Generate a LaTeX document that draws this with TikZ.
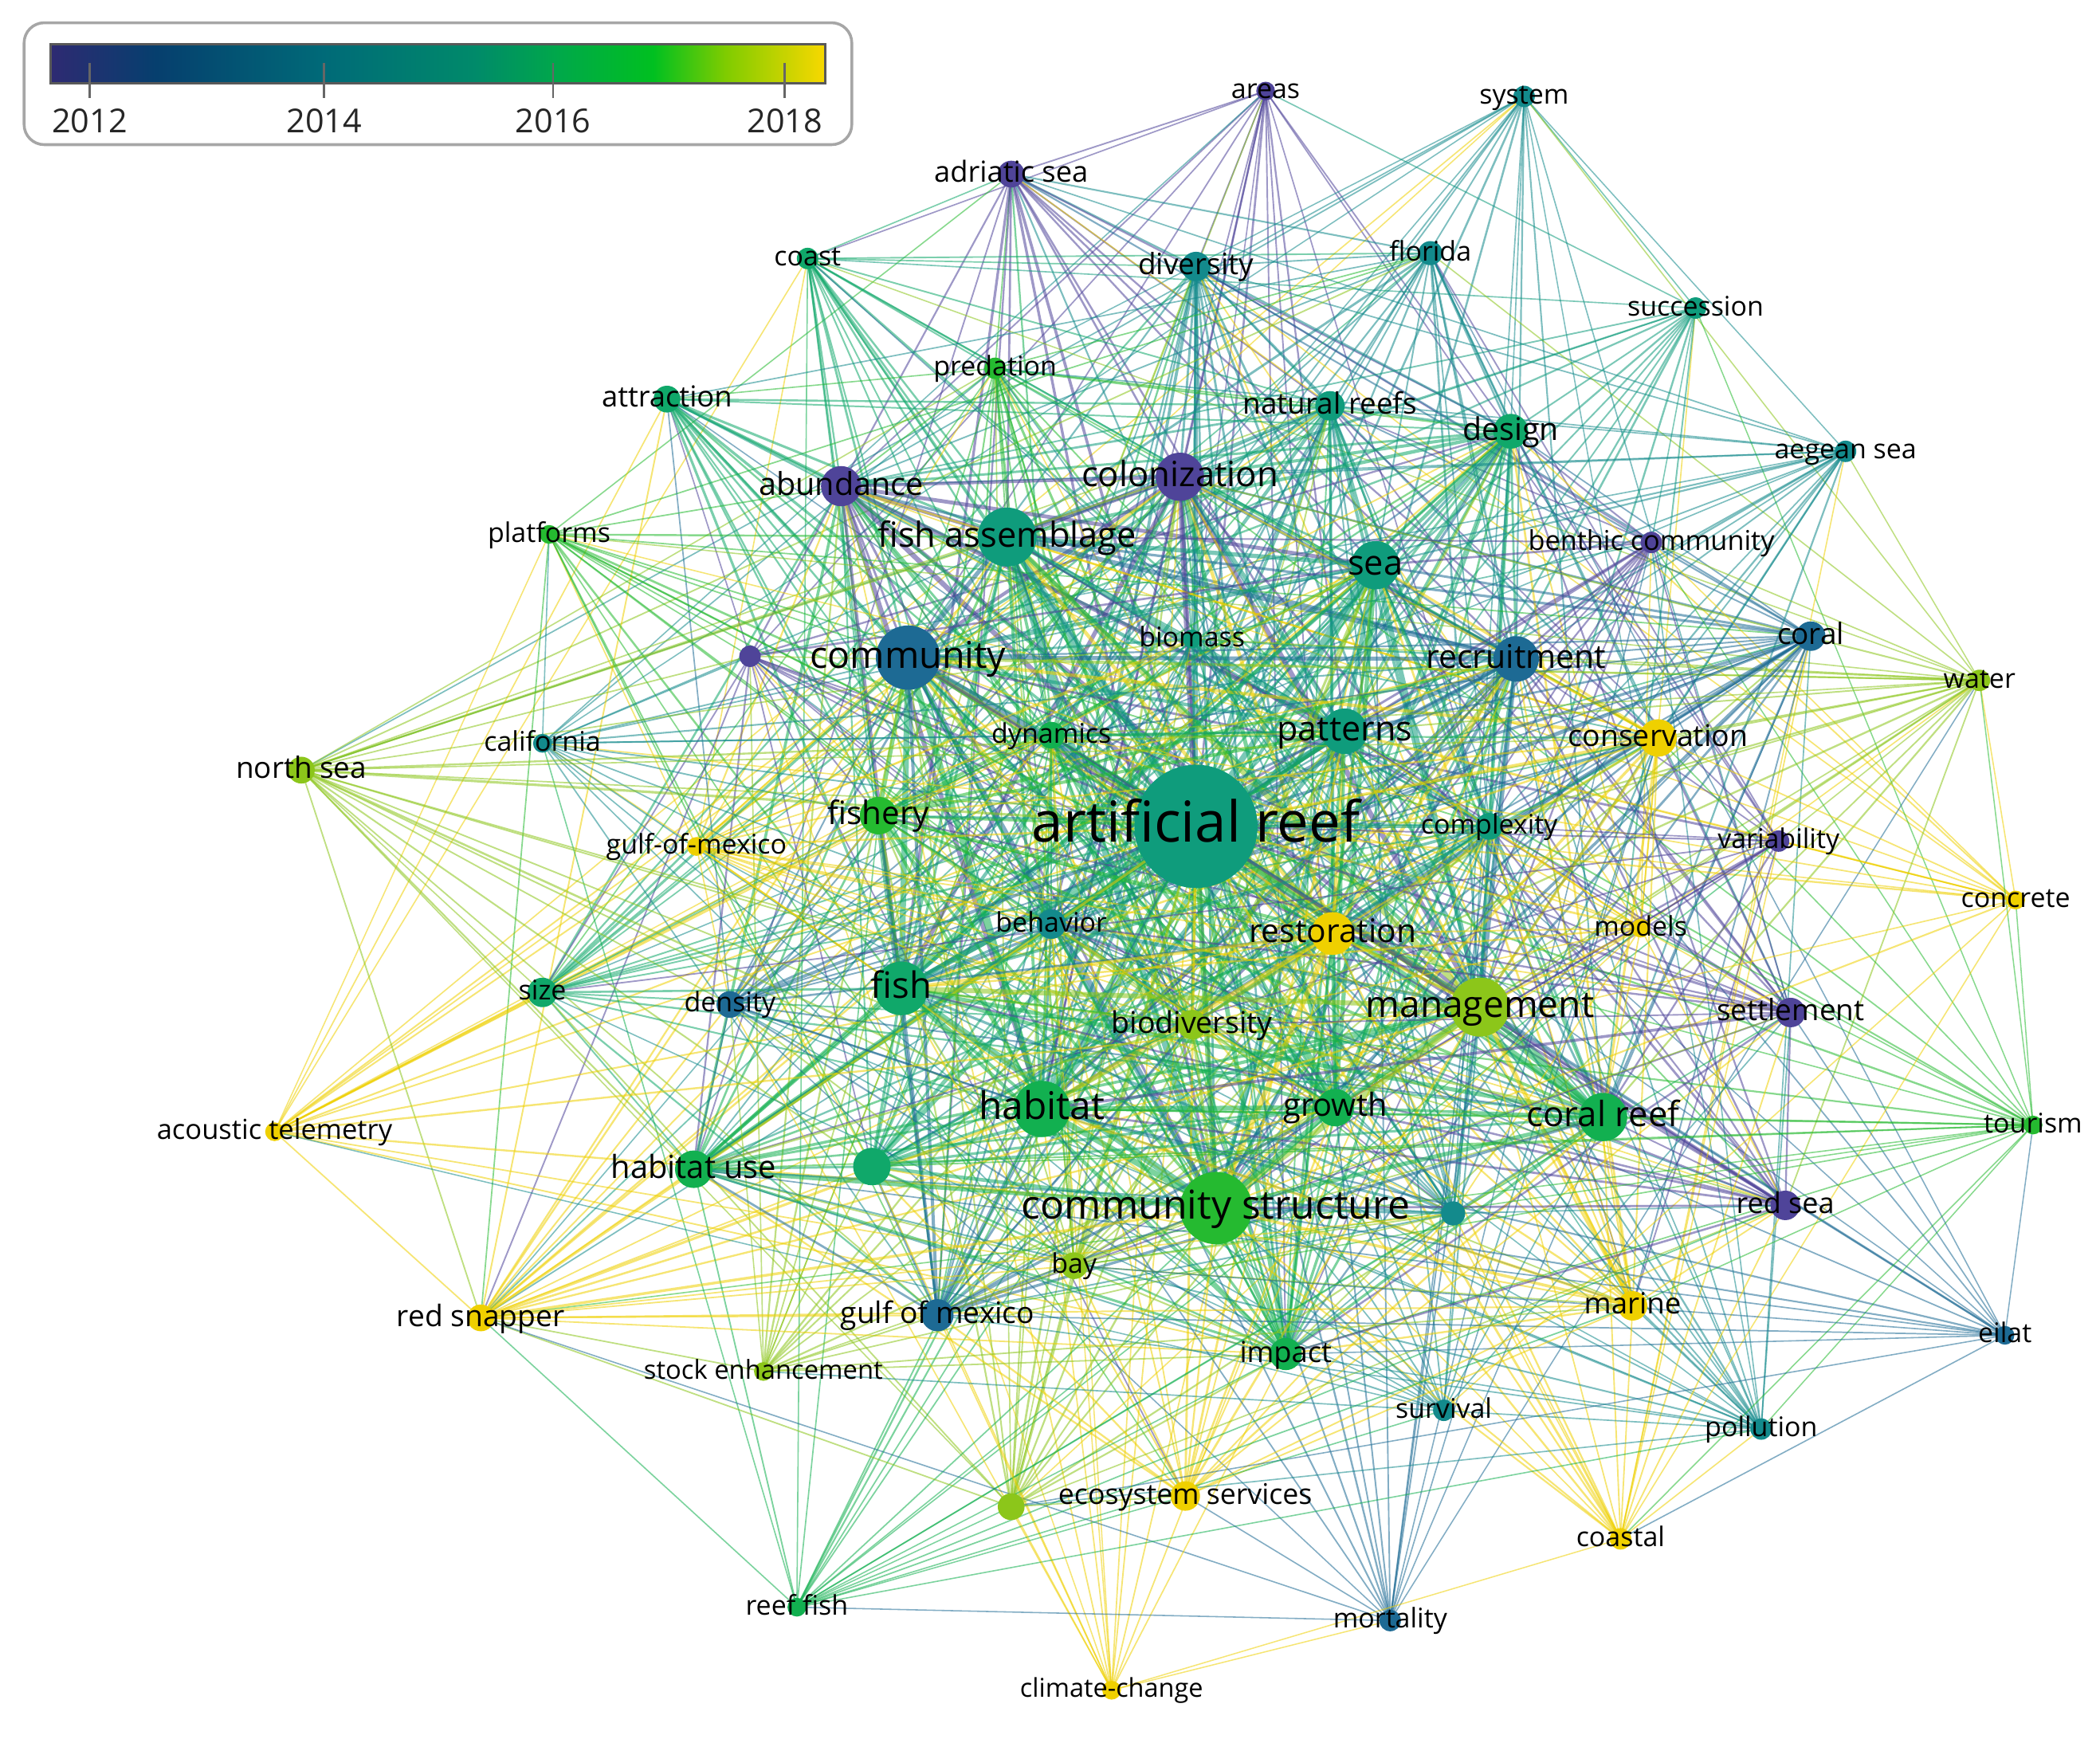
\documentclass[tikz,border=0pt]{standalone}
\usepackage{fontspec}
\setmainfont{Open Sans}
\definecolor{y12}{HTML}{4F4499}
\definecolor{y13}{HTML}{1D6A94}
\definecolor{y14}{HTML}{138A8C}
\definecolor{y145}{HTML}{0F9C7C}
\definecolor{y15}{HTML}{10A86A}
\definecolor{y155}{HTML}{12B050}
\definecolor{y16}{HTML}{25BA30}
\definecolor{y17}{HTML}{8CC61A}
\definecolor{y18}{HTML}{EFD000}
\definecolor{g0}{HTML}{2E2A72}
\definecolor{g1}{HTML}{063F6E}
\definecolor{g2}{HTML}{006A78}
\definecolor{g3}{HTML}{008A6A}
\definecolor{g4}{HTML}{00A84A}
\definecolor{g5}{HTML}{00C020}
\definecolor{g6}{HTML}{80CC00}
\definecolor{g7}{HTML}{F8D800}
% TikZ maps the path onto the middle half (25bp..75bp) of the shading
\pgfdeclarehorizontalshading{legendgrad}{100bp}{color(0bp)=(g0); color(25bp)=(g0); color(31.8bp)=(g1); color(42.6bp)=(g2); color(52.35bp)=(g3); color(57.75bp)=(g4); color(63.9bp)=(g5); color(68.6bp)=(g6); color(75bp)=(g7); color(100bp)=(g7)}
\tikzset{
  edge/.style={draw opacity=0.55, line cap=round},
  kw/.style={circle, inner sep=0pt, draw=none},
  kwlabel/.style={inner sep=0pt, text=black, text depth=0pt},
  yearlab/.style={font=\fontsize{14}{14}\selectfont, text=black!85}
}
\def\nodelist{
1/945/68/7/y12/0.5/11.5/areas,
2/1138/72/8/y14/0.5/11.5/system,
3/755/130/10/y12/0.65/12.3/adriatic sea,
4/603/193/8/y15/0.55/11.5/coast,
5/893/199/11/y14/0.65/12.5/diversity,
6/1068/189/9/y14/0.6/11.5/florida,
7/1266/230/8/y145/0.5/11.5/succession,
8/743/275/8/y16/0.55/11.5/predation,
9/498/298/10/y15/0.65/12.3/attraction,
10/993/303/11/y145/0.7/12.5/natural reefs,
11/1128/322/13/y15/0.75/13.3/design,
12/1378/337/8/y14/0.5/11.5/aegean sea,
13/628/363/15/y12/0.8/13.4/abundance,
14/881/356/18/y12/0.85/14.8/colonization,
15/410/399/7/y16/0.5/11.5/platforms,
16/752/401/22/y145/0.9/14.7/fish assemblage,
17/1027/422/18/y145/0.85/14.7/sea,
18/1233/405/8/y12/0.55/11.6/benthic community,
19/560/490/8/y12/0.55/11.5/{},
20/678/491/24/y13/0.9/15.8/community,
21/890/477/7/y145/0.55/11.5/biomass,
22/1132/492/17/y13/0.8/13.9/recruitment,
23/1352/475/11/y13/0.6/12.5/coral,
24/1478/508/8/y17/0.5/11.5/water,
25/405/555/7/y14/0.5/11.5/california,
26/785/549/10/y155/0.65/11.5/dynamics,
27/1004/546/17/y145/0.85/14.6/patterns,
28/1238/551/14/y18/0.7/12.7/conservation,
29/225/575/10/y17/0.55/12.5/north sea,
30/656/609/14/y16/0.75/13.7/fishery,
31/520/632/7/y18/0.5/11.5/gulf-of-mexico,
32/893/617/46/y145/1/24/artificial reef,
33/1112/617/10/y145/0.65/11.5/complexity,
34/1328/628/8/y12/0.55/11.5/variability,
35/1505/672/7/y18/0.45/11.5/concrete,
36/785/690/11/y14/0.7/11.5/behavior,
37/995/697/16/y18/0.8/13.8/restoration,
38/1225/693/7/y18/0.5/11.5/models,
39/405/741/11/y15/0.6/11.5/size,
40/545/750/10/y13/0.6/11.5/density,
41/673/738/20/y15/0.9/15.4/fish,
42/1105/752/22/y17/0.9/15.6/management,
43/890/765/11/y17/0.7/12.7/biodiversity,
44/1337/756/11/y12/0.65/12.5/settlement,
45/205/845/7/y18/0.5/11.7/acoustic telemetry,
46/778/828/21/y155/0.9/16.2/habitat,
47/997/827/14/y155/0.8/13.5/growth,
48/1197/834/18/y155/0.8/14.8/coral reef,
49/1518/840/7/y16/0.45/11.5/tourism,
50/651/871/14/y15/0.7/11.5/{},
51/518/873/14/y155/0.75/13.5/habitat use,
52/908/902/27/y16/0.95/16.9/community structure,
53/1085/906/9/y14/0.6/11.5/{},
54/1333/900/11/y12/0.65/12.2/red sea,
55/802/945/10/y17/0.6/11.5/bay,
56/359/984/10/y18/0.6/12.6/red snapper,
57/700/982/12/y13/0.7/12.6/gulf of mexico,
58/1219/975/11/y18/0.65/12.4/marine,
59/1497/997/7/y13/0.45/11.5/eilat,
60/960/1011/12/y155/0.7/12.3/impact,
61/570/1024/7/y17/0.5/11.1/stock enhancement,
62/1078/1053/8/y14/0.5/11.5/survival,
63/1315/1067/8/y14/0.5/11.5/pollution,
64/755/1125/10/y17/0.55/11.5/{},
65/885/1117/11/y18/0.6/12.1/ecosystem services,
66/1210/1149/8/y18/0.5/11.5/coastal,
67/595/1200/7/y155/0.45/11.5/reef fish,
68/1038/1210/8/y13/0.45/11.5/mortality,
69/830/1262/7/y18/0.4/11/climate-change}
\begin{document}
\begin{tikzpicture}[x=0.02cm,y=-0.02cm]
\fill[white] (0,0) rectangle (1568,1298);
\useasboundingbox (0,0) rectangle (1568,1298);
% store node data
\foreach \i/\x/\y/\rad/\col/\wt/\fs/\lab in \nodelist {
  \coordinate (n\i) at (\x,\y);
  \expandafter\xdef\csname nx\i\endcsname{\x}
  \expandafter\xdef\csname ny\i\endcsname{\y}
  \expandafter\xdef\csname nw\i\endcsname{\wt}
  \expandafter\xdef\csname nc\i\endcsname{\col}
}
% connectors
\pgfmathsetseed{4711}
\foreach \i in {1,...,68}{
  \pgfmathtruncatemacro\js{\i+1}
  \foreach \j in {\js,...,69}{
    \edef\wa{\csname nw\i\endcsname}\edef\wb{\csname nw\j\endcsname}
    \edef\xa{\csname nx\i\endcsname}\edef\xb{\csname nx\j\endcsname}
    \edef\ya{\csname ny\i\endcsname}\edef\yb{\csname ny\j\endcsname}
    \pgfmathsetmacro\dd{veclen((\xa-\xb)/100,(\ya-\yb)/100)}
    \pgfmathsetmacro\prob{1.35*\wa*\wb*max(0.45,1.25-\dd/14)}
    \ifnum\i=32 \def\prob{1}\fi
    \ifnum\j=32 \def\prob{1}\fi
    \pgfmathsetmacro\rn{rnd}
    \ifdim\rn pt<\prob pt
      \pgfmathsetmacro\lw{0.5+3.2*(\wa*\wb)^3*(0.3+rnd)}
      \ifdim\wa pt<\wb pt \edef\ec{\csname nc\i\endcsname}\else\edef\ec{\csname nc\j\endcsname}\fi
      \draw[edge,draw=\ec,line width=\lw pt] (n\i) -- (n\j);
    \fi
  }
}
% keyword circles
\foreach \i/\x/\y/\rad/\col/\wt/\fs/\lab in \nodelist {
  \node[kw, fill=\col, minimum size={2*\rad*0.02cm}] (c\i) at (n\i) {};
}
% keyword labels
\foreach \i/\x/\y/\rad/\col/\wt/\fs/\lab in \nodelist {
  \pgfmathsetmacro\th{0.56*\fs}
  \node[kwlabel, text height=\th pt, font=\fontsize{\fs}{\fs}\selectfont] (t\i) at (\x,\y) {\lab};
}
% legend
\draw[draw=black!35, line width=1.2pt, fill=white, rounded corners=0.3cm] (18,17) rectangle (636,108);
\shade[shading=legendgrad] (38,33) rectangle (616,62);
\draw[draw=black!65, line width=1pt] (38,33) rectangle (616,62);
\foreach \tx/\yr in {67/2012,242/2014,413/2016,586/2018}{
  \draw[black!60, line width=0.9pt] (\tx,47) -- (\tx,73);
  \node[yearlab] (yr\yr) at (\tx,90) {\yr};
}
\end{tikzpicture}
\end{document}
